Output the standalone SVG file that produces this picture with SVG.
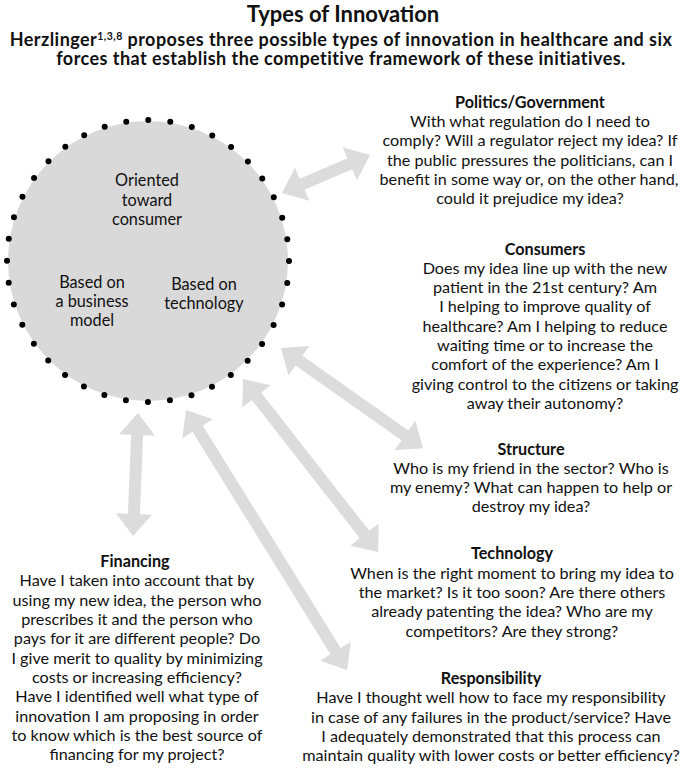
<svg xmlns="http://www.w3.org/2000/svg" width="680" height="770" viewBox="0 0 680 770">
<style>
text{font-family:Lato,"Noto Sans",sans-serif;fill:#111;text-anchor:middle}
.t{font-size:22px;font-weight:bold}
.s{font-size:18px;font-weight:bold;letter-spacing:0.45px}
.h{font-size:16.2px;font-weight:bold}
.b{font-size:16.2px}
.c{font-size:16.3px}
.arr{fill:#dcdcdc}
</style>
<rect width="680" height="770" fill="#fff"/>
<g id="title">
<text class="t" x="343" y="22">Types of Innovation</text>
<text class="s" x="341" y="46">Herzlinger<tspan font-size="10.5" dy="-6.5">1,3,8</tspan><tspan dy="6.5"> proposes three possible types of innovation in healthcare and six</tspan></text>
<text class="s" x="341" y="65">forces that establish the competitive framework of these initiatives.</text>
</g>
<g id="connectors">
<polygon class="arr" transform="translate(282,193) rotate(-23.4)" points="0,0 22,-18 22,-6 73.9,-6 73.9,-18 95.9,0 73.9,18 73.9,6 22,6 22,18"/>
<polygon class="arr" transform="translate(281,348) rotate(35.2)" points="0,0 22,-18 22,-6 151.7,-6 151.7,-18 173.7,0 151.7,18 151.7,6 22,6 22,18"/>
<polygon class="arr" transform="translate(243,379) rotate(52)" points="0,0 22,-18 22,-6 197.4,-6 197.4,-18 219.4,0 197.4,18 197.4,6 22,6 22,18"/>
<polygon class="arr" transform="translate(186,410) rotate(58.2)" points="0,0 22,-18 22,-6 283.8,-6 283.8,-18 305.8,0 283.8,18 283.8,6 22,6 22,18"/>
<polygon class="arr" transform="translate(138,413) rotate(92.3)" points="0,0 22,-18 22,-6 101.1,-6 101.1,-18 123.1,0 101.1,18 101.1,6 22,6 22,18"/>
</g>
<g id="innovation-circle">
<circle cx="148" cy="261" r="140" fill="#d9d9d9"/>
<circle cx="148" cy="261" r="141" fill="none" stroke="#000" stroke-width="6" stroke-linecap="round" stroke-dasharray="0 22.148"/>
<text class="c" x="147" y="186">Oriented</text>
<text class="c" x="147" y="206">toward</text>
<text class="c" x="147" y="225">consumer</text>
<text class="c" x="92" y="288">Based on</text>
<text class="c" x="92" y="307">a business</text>
<text class="c" x="92" y="326">model</text>
<text class="c" x="204" y="290">Based on</text>
<text class="c" x="204" y="309">technology</text>
</g>
<g id="politics">
<text class="h" x="530" y="108">Politics/Government</text>
<text class="b" x="530" y="127">With what regulation do I need to</text>
<text class="b" x="530" y="146">comply? Will a regulator reject my idea? If</text>
<text class="b" x="530" y="166">the public pressures the politicians, can I</text>
<text class="b" x="529" y="185">benefit in some way or, on the other hand,</text>
<text class="b" x="530" y="204">could it prejudice my idea?</text>
</g>
<g id="consumers">
<text class="h" x="545" y="255">Consumers</text>
<text class="b" x="545" y="274">Does my idea line up with the new</text>
<text class="b" x="545" y="293">patient in the 21st century? Am</text>
<text class="b" x="545" y="312">I helping to improve quality of</text>
<text class="b" x="545" y="332">healthcare? Am I helping to reduce</text>
<text class="b" x="545" y="351">waiting time or to increase the</text>
<text class="b" x="545" y="370">comfort of the experience? Am I</text>
<text class="b" x="545" y="390">giving control to the citizens or taking</text>
<text class="b" x="545" y="409">away their autonomy?</text>
</g>
<g id="structure">
<text class="h" x="531" y="455">Structure</text>
<text class="b" x="531" y="474">Who is my friend in the sector? Who is</text>
<text class="b" x="531" y="493">my enemy? What can happen to help or</text>
<text class="b" x="531" y="512">destroy my idea?</text>
</g>
<g id="technology">
<text class="h" x="512" y="559">Technology</text>
<text class="b" x="512" y="579">When is the right moment to bring my idea to</text>
<text class="b" x="512" y="598">the market? Is it too soon? Are there others</text>
<text class="b" x="512" y="617">already patenting the idea? Who are my</text>
<text class="b" x="512" y="637">competitors? Are they strong?</text>
</g>
<g id="responsibility">
<text class="h" x="491" y="684">Responsibility</text>
<text class="b" x="491" y="703">Have I thought well how to face my responsibility</text>
<text class="b" x="491" y="723">in case of any failures in the product/service? Have</text>
<text class="b" x="491" y="742">I adequately demonstrated that this process can</text>
<text class="b" x="491" y="761">maintain quality with lower costs or better efficiency?</text>
</g>
<g id="financing">
<text class="h" x="135" y="567">Financing</text>
<text class="b" x="137" y="586">Have I taken into account that by</text>
<text class="b" x="137" y="606">using my new idea, the person who</text>
<text class="b" x="137" y="625">prescribes it and the person who</text>
<text class="b" x="137" y="644">pays for it are different people? Do</text>
<text class="b" x="137" y="664">I give merit to quality by minimizing</text>
<text class="b" x="137" y="683">costs or increasing efficiency?</text>
<text class="b" x="137" y="702">Have I identified well what type of</text>
<text class="b" x="137" y="722">innovation I am proposing in order</text>
<text class="b" x="137" y="741">to know which is the best source of</text>
<text class="b" x="137" y="760">financing for my project?</text>
</g>
</svg>
